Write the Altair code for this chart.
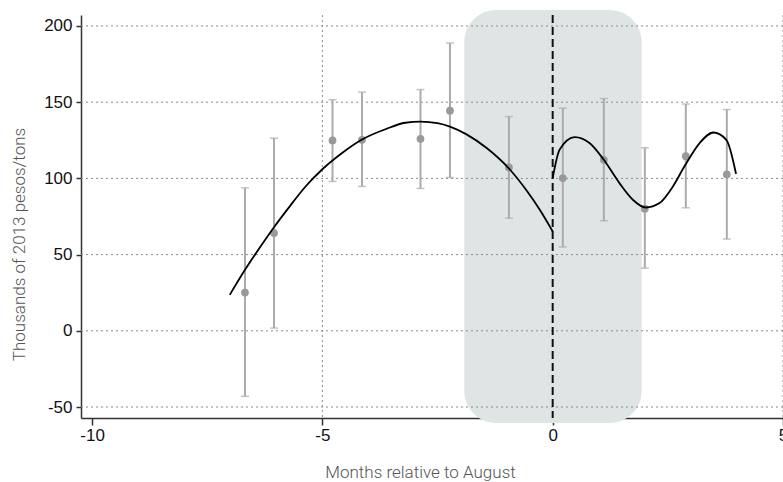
import altair as alt
import pandas as pd

# Point estimates with confidence intervals
pt_x = [-6.68, -6.05, -4.78, -4.14, -2.87, -2.23, -0.95, 0.22, 1.11, 2.0, 2.89, 3.78]
pt_y = [25.1, 64.1, 124.9, 125.3, 126.0, 144.4, 107.2, 100.2, 112.2, 80.1, 114.6, 102.6]
ci_lo = [-43.0, 1.8, 98.0, 94.7, 93.4, 100.6, 73.9, 55.0, 72.2, 41.1, 80.7, 60.2]
ci_hi = [93.8, 126.4, 151.6, 156.6, 158.3, 188.8, 140.6, 146.1, 152.4, 120.1, 148.8, 145.2]

# Fitted curve before August
left_x = [-7.01, -6.68, -6.35, -6.05, -5.7, -5.37, -5.0, -4.6, -4.14, -3.61, -3.2, -2.87,
          -2.5, -2.23, -1.87, -1.44, -0.95, -0.57, -0.28, 0.0]
left_y = [23.6, 40.0, 55.0, 68.0, 82.0, 94.5, 106.0, 116.0, 125.5, 132.5, 136.5, 137.3,
          136.3, 134.0, 128.9, 120.1, 106.5, 92.2, 79.4, 65.2]

# Fitted curve after August
right_x = [0.0, 0.15, 0.48, 0.8, 1.11, 1.45, 1.74, 2.02, 2.32, 2.61, 2.88, 3.19, 3.49, 3.77, 3.98]
right_y = [100.2, 118.8, 127.1, 123.2, 112.2, 96.9, 86.0, 80.9, 83.8, 94.7, 108.9, 123.2,
           130.1, 125.3, 103.0]

x_ticks = [-10, -5, 0, 5]
y_ticks = [-50, 0, 50, 100, 150, 200]
x_grid = [-5, 5]
shade_x = [-1.92, 1.93]
shade_y = [-60.5, 210.5]

xs = alt.Scale(domain=[-10.24, 5.0], nice=False, zero=False)
ys = alt.Scale(domain=[-57.2, 207.2], nice=False, zero=False)

xaxis = alt.Axis(values=x_ticks, title="Months relative to August", grid=False,
                 labelExpr="datum.value + ''",
                 labelFontSize=17, labelFont="Liberation Sans", labelColor="#111",
                 labelFlush=False, labelOverlap=False, labelBound=False, labelPadding=2,
                 tickSize=7, tickWidth=1.5, tickColor="#333",
                 domainColor="#333", domainWidth=1.5,
                 titleFont="Roboto", titleFontSize=17, titleFontWeight=300, titleColor="#555",
                 titleX=339, titleY=59, titleBaseline="alphabetic", titleAlign="center")
yaxis = alt.Axis(values=y_ticks, title="Thousands of 2013 pesos/tons", grid=False,
                 labelExpr="datum.value + ''",
                 labelFontSize=17, labelFont="Liberation Sans", labelColor="#111",
                 labelFlush=False, labelOverlap=False, labelPadding=4,
                 tickSize=5, tickWidth=1.5, tickColor="#333",
                 domainColor="#333", domainWidth=1.5,
                 titleFont="Roboto", titleFontSize=17, titleFontWeight=300, titleColor="#555",
                 titleX=-62, titleY=229, titleAngle=270, titleBaseline="middle", titleAlign="center")

X = alt.X("x:Q", scale=xs, axis=xaxis)
Y = alt.Y("y:Q", scale=ys, axis=yaxis)

shade_df = pd.DataFrame({"x": [shade_x[0]], "x2": [shade_x[1]], "y": [shade_y[0]], "y2": [shade_y[1]]})
shade = alt.Chart(shade_df).mark_rect(color="#dfe5e5", cornerRadius=32, clip=False).encode(
    x=X, x2="x2:Q", y=Y, y2="y2:Q")

hgrid = alt.Chart(pd.DataFrame({"y": y_ticks})).mark_rule(
    color="#8a8a8a", strokeWidth=1, strokeDash=[2, 3]).encode(y=Y)
vgrid = alt.Chart(pd.DataFrame({"x": x_grid})).mark_rule(
    color="#8a8a8a", strokeWidth=1, strokeDash=[2, 3]).encode(x=X)

zero_line = alt.Chart(pd.DataFrame({"x": [0]})).mark_rule(
    color="#111", strokeWidth=2, strokeDash=[8, 4]).encode(x=X)

pts = pd.DataFrame({"x": pt_x, "y": pt_y, "lo": ci_lo, "hi": ci_hi})
bars = alt.Chart(pts).mark_rule(color="#ababab", strokeWidth=2).encode(
    x=X, y=alt.Y("lo:Q", scale=ys, axis=yaxis), y2="hi:Q")
cap_hi = alt.Chart(pts).mark_tick(color="#ababab", orient="horizontal", size=8, thickness=1.5).encode(
    x=X, y=alt.Y("hi:Q", scale=ys, axis=yaxis))
cap_lo = alt.Chart(pts).mark_tick(color="#ababab", orient="horizontal", size=8, thickness=1.5).encode(
    x=X, y=alt.Y("lo:Q", scale=ys, axis=yaxis))
dots = alt.Chart(pts).mark_circle(color="#999999", size=60, opacity=1).encode(x=X, y=Y)

left = alt.Chart(pd.DataFrame({"x": left_x, "y": left_y})).mark_line(
    color="#000", strokeWidth=1.8, interpolate="monotone").encode(x=X, y=Y)
right = alt.Chart(pd.DataFrame({"x": right_x, "y": right_y})).mark_line(
    color="#000", strokeWidth=1.8, interpolate="monotone").encode(x=X, y=Y)

chart = alt.layer(shade, hgrid, vgrid, zero_line, bars, cap_hi, cap_lo, dots, left, right).properties(
    width=702, height=403,
    padding={"left": 81, "top": 15, "right": 0, "bottom": 64},
    autosize=alt.AutoSizeParams(type="none"),
    background="white",
).configure_view(stroke=None)

chart.save("out.html", embed_options={"renderer": "svg", "actions": False})
